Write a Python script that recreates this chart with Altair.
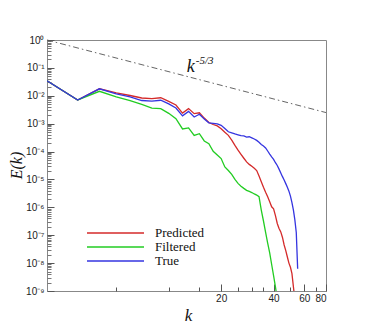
import altair as alt
import pandas as pd

# ---- data (wavenumber k and log10 of E(k)) ----
k_pred = list(range(2, 54))
pred_log10E = [-1.46, -2.15, -1.75, -1.90, -1.99, -2.08, -2.10, -2.07, -2.20, -2.33,
               -2.62, -2.46, -2.64, -2.61, -2.80, -2.96, -3.03, -3.08, -3.18, -3.31,
               -3.42, -3.59, -3.78, -3.95, -4.10, -4.24, -4.37, -4.46, -4.53, -4.60,
               -4.68, -4.88, -5.08, -5.28, -5.46, -5.62, -5.80, -5.98, -6.05, -6.30,
               -6.58, -6.76, -6.88, -7.08, -7.35, -7.55, -7.78, -8.00, -8.15, -8.38,
               -8.85, -9.30]

k_filt = list(range(2, 43))
filt_log10E = [-1.46, -2.15, -1.84, -2.04, -2.17, -2.31, -2.44, -2.46, -2.63, -2.82,
               -3.19, -3.15, -3.42, -3.36, -3.62, -3.72, -3.99, -4.12, -4.25, -4.55,
               -4.68, -4.82, -5.00, -5.14, -5.24, -5.32, -5.39, -5.43, -5.47, -5.52,
               -5.56, -5.62, -6.10, -6.49, -6.90, -7.28, -7.63, -8.05, -8.45, -8.85,
               -9.30]

k_true = list(range(2, 56))
true_log10E = [-1.46, -2.15, -1.75, -1.935, -2.04, -2.17, -2.19, -2.16, -2.29, -2.44,
               -2.72, -2.56, -2.76, -2.66, -2.83, -2.97, -2.99, -3.01, -3.06, -3.17,
               -3.29, -3.33, -3.37, -3.40, -3.43, -3.44, -3.48, -3.47, -3.51, -3.55,
               -3.60, -3.67, -3.75, -3.80, -3.87, -3.98, -4.09, -4.19, -4.28, -4.40,
               -4.50, -4.63, -4.77, -4.90, -5.02, -5.15, -5.28, -5.42, -5.60, -5.83,
               -6.10, -6.45, -6.90, -8.20]

series_names = ["Predicted", "Filtered", "True"]
series_colors = ["#d42a2a", "#22cc22", "#3535e0"]

ref_k = [2, 80]
ref_E = [1.0, 0.0025]

ann_k = [12.7]
ann_E = [0.071]

x_major = [20, 40, 60, 80]
x_minor = [5, 10, 15, 25, 30, 35, 50, 70]
y_major = [1, 1e-1, 1e-2, 1e-3, 1e-4, 1e-5, 1e-6, 1e-7, 1e-8, 1e-9]
y_labels = ["10⁰", "10⁻¹", "10⁻²", "10⁻³", "10⁻⁴", "10⁻⁵", "10⁻⁶", "10⁻⁷", "10⁻⁸", "10⁻⁹"]
y_minor = [m * d for d in y_major[1:] for m in range(2, 10)]

# ---- tables ----
rows = []
for name, ks, ls in [("Predicted", k_pred, pred_log10E),
                     ("Filtered", k_filt, filt_log10E),
                     ("True", k_true, true_log10E)]:
    for k, l in zip(ks, ls):
        rows.append({"k": k, "E": 10 ** l, "series": name})
df = pd.DataFrame(rows)
df["order"] = df["series"].map({"Predicted": 0, "Filtered": 1, "True": 2})
ref_df = pd.DataFrame({"k": ref_k, "E": ref_E})
ann_df = pd.DataFrame({"k": ann_k, "E": ann_E})

W, H = 279, 251
xscale = alt.Scale(type="log", domain=[2, 80], nice=False)
yscale = alt.Scale(type="log", domain=[1e-9, 1], nice=False)

label_js = "[" + ",".join("'%s'" % s for s in y_labels) + "]"

lines = alt.Chart(df).mark_line(strokeWidth=1.3, clip=True).encode(
    x=alt.X("k:Q", scale=xscale,
            axis=alt.Axis(orient="bottom", values=x_major, format="d", offset=-7, tickSize=7,
                          domain=False, grid=False, labelPadding=2, labelFont="Liberation Sans",
                          labelFontSize=10, labelColor="#222", tickColor="#555",
                          title="k", titleFont="Liberation Serif", titleFontStyle="italic",
                          titleFontWeight="normal", titleFontSize=17, titleColor="#111",
                          titleX=141, titleY=31, titleBaseline="middle")),
    y=alt.Y("E:Q", scale=yscale,
            axis=alt.Axis(orient="left", values=y_major, offset=-7, tickSize=7,
                          domain=False, grid=False, labelPadding=3,
                          labelExpr=label_js + "[round(-log(datum.value)/LN10)]",
                          labelFont="Liberation Sans", labelFontSize=10, labelColor="#222",
                          tickColor="#555", title="E(k)", titleFont="Liberation Serif",
                          titleFontStyle="italic", titleFontWeight="normal", titleFontSize=16,
                          titleColor="#111", titleX=-38, titleY=125, titleBaseline="middle",
                          titleAngle=-90)),
    color=alt.Color("series:N", sort=series_names,
                    scale=alt.Scale(domain=series_names, range=series_colors),
                    legend=alt.Legend(title=None, orient="none", legendX=39, legendY=187,
                                      symbolType="stroke", symbolSize=3249,
                                      symbolStrokeWidth=1.5, clipHeight=12, padding=0,
                                      labelFont="Liberation Serif", labelFontSize=13,
                                      labelColor="#111", labelOffset=10, rowPadding=1)),
    order=alt.Order("order:Q"),
    detail="series:N",
)

minor = alt.Chart(df).mark_line(opacity=0).encode(
    x=alt.X("k:Q", scale=xscale,
            axis=alt.Axis(orient="bottom", values=x_minor, offset=-4, tickSize=4, labels=False,
                          domain=False, grid=False, title=None, tickColor="#555")),
    y=alt.Y("E:Q", scale=yscale,
            axis=alt.Axis(orient="left", values=y_minor, offset=-4, tickSize=4, labels=False,
                          domain=False, grid=False, title=None, tickColor="#777")),
    detail="series:N",
)

ref = alt.Chart(ref_df).mark_line(color="#555", strokeWidth=0.9, strokeDash=[6, 3, 1.5, 3]).encode(
    x=alt.X("k:Q", scale=xscale, axis=None),
    y=alt.Y("E:Q", scale=yscale, axis=None),
)

ann_k_text = alt.Chart(ann_df).mark_text(text="k", font="Liberation Serif", fontStyle="italic",
                                         fontSize=18, align="left", baseline="alphabetic",
                                         color="#111").encode(
    x=alt.X("k:Q", scale=xscale, axis=None),
    y=alt.Y("E:Q", scale=yscale, axis=None),
)
ann_sup = alt.Chart(ann_df).mark_text(text="-5/3", font="Liberation Serif", fontStyle="italic",
                                      fontSize=11, align="left", baseline="alphabetic",
                                      dx=9, dy=-8, color="#111").encode(
    x=alt.X("k:Q", scale=xscale, axis=None),
    y=alt.Y("E:Q", scale=yscale, axis=None),
)

chart = alt.layer(minor, ref, lines, ann_k_text, ann_sup).resolve_axis(
    x="independent", y="independent"
).properties(
    width=W, height=H,
    autosize=alt.AutoSizeParams(type="none"),
    padding={"left": 39, "top": 32, "right": 20, "bottom": 40},
).configure_view(stroke="#888", strokeWidth=1)

chart.save("out.html", embed_options={"renderer": "svg", "actions": False})
